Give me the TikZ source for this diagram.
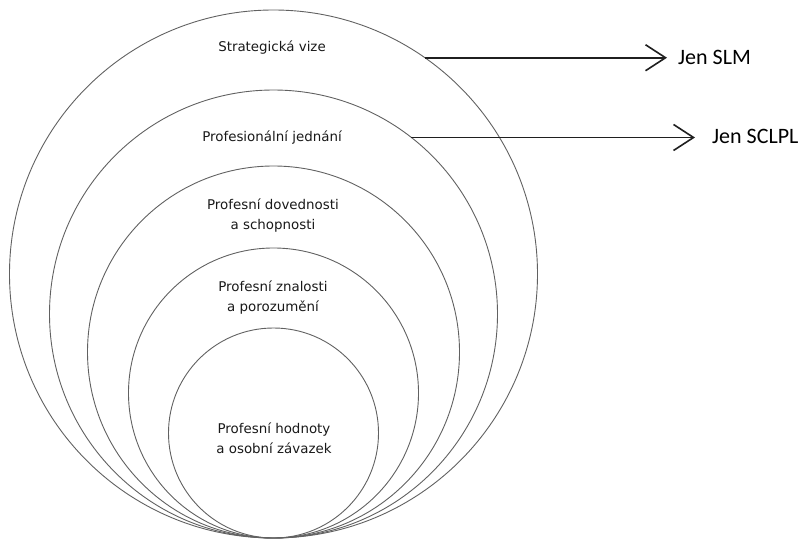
\documentclass[tikz,border=0pt]{standalone}
\usepackage{fontspec}
\setmainfont{DejaVu Sans}
\newfontfamily\labelfont{Carlito}
\usetikzlibrary{arrows.meta}
\tikzset{
  ring/.style={circle, draw=black!62, line width=0.9pt, inner sep=0pt, outer sep=0pt, minimum size=#1},
  lbl/.style={align=center, font=\fontsize{13.4}{20}\selectfont, text=black!90, inner sep=0pt},
  side/.style={anchor=west, font=\labelfont\fontsize{22}{24}\selectfont, inner sep=0pt},
  onlyarrow/.style={line width=1.8pt, draw=black!88, -{Straight Barb[length=20pt,width=26pt,line width=1.6pt]}}
}
\begin{document}
\begin{tikzpicture}[x=1pt,y=-1pt]
\useasboundingbox (0,0) rectangle (809,540);
\node[ring=528pt] (c1) at (273.5,274) {};
\node[ring=448pt] (c2) at (273.5,314) {};
\node[ring=372pt] (c3) at (273.5,352) {};
\node[ring=290pt] (c4) at (273.5,393) {};
\node[ring=210pt] (c5) at (273.5,433) {};
\node[lbl] (t1) at (272,48) {Strategická vize};
\node[lbl] (t2) at (272,138) {Profesionální jednání};
\node[lbl] (t3) at (273,216) {Profesní dovednosti\\a schopnosti};
\node[lbl] (t4) at (273,298) {Profesní znalosti\\a porozumění};
\node[lbl] (t5) at (274,438) {Profesní hodnoty\\a osobní závazek};
\node[side] (s1) at (678,57) {Jen SLM};
\node[side] (s2) at (712,136) {Jen SCLPL};
\coordinate (e1) at (667,57);
\coordinate (e2) at (695,136);
\draw[onlyarrow] (c1.55.6) -- (c1.55.6 -| e1);
\draw[onlyarrow] (c2.52.6) -- (c2.52.6 -| e2);
\end{tikzpicture}
\end{document}
